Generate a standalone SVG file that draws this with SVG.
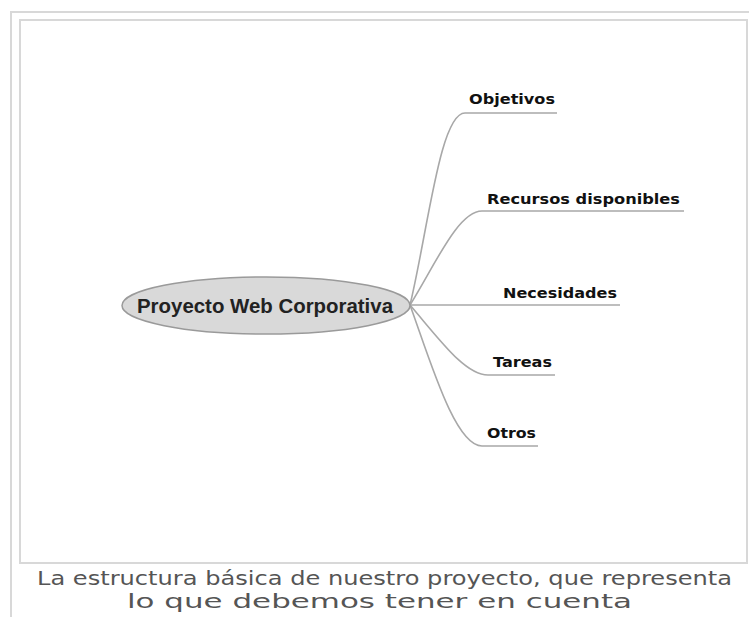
<svg xmlns="http://www.w3.org/2000/svg" width="749" height="617" viewBox="0 0 749 617">
<style>
.frame{fill:none;stroke:#d8d8d8;stroke-width:2}
.link{fill:none;stroke:#a8a8a8;stroke-width:1.6}
.lbl{font-family:"DejaVu Sans",Verdana,sans-serif;font-weight:bold;font-size:14.5px;fill:#111}
.center{font-family:"Liberation Sans",Arial,sans-serif;font-weight:bold;font-size:20px;fill:#222}
.cap{font-family:"DejaVu Sans",Verdana,sans-serif;font-size:19px;fill:#555}
</style>
<rect width="749" height="617" fill="#fff"/>
<path class="frame" d="M11,617 V12 H749" stroke-width="2.5"/>
<rect class="frame" x="20" y="20" width="727" height="543"/>
<g id="connectors">
<path class="link" d="M410,305 C428,230 440,113 465,113 H557"/>
<path class="link" d="M410,305 C435,265 458,211 482,211 H684"/>
<path class="link" d="M410,305 H620"/>
<path class="link" d="M410,305 C440,340 465,375 488,375 H555"/>
<path class="link" d="M410,305 C430,360 455,446 482,446 H538"/>
</g>
<g id="center">
<ellipse cx="266" cy="305.5" rx="144" ry="28.5" fill="#d9d9d9" stroke="#9a9a9a" stroke-width="1.5"/>
<text class="center" x="137" y="313" textLength="256" lengthAdjust="spacingAndGlyphs">Proyecto Web Corporativa</text>
</g>
<g id="objetivos"><text class="lbl" x="469" y="104" textLength="86" lengthAdjust="spacingAndGlyphs">Objetivos</text></g>
<g id="recursos"><text class="lbl" x="487" y="204" textLength="193" lengthAdjust="spacingAndGlyphs">Recursos disponibles</text></g>
<g id="necesidades"><text class="lbl" x="503" y="298" textLength="114" lengthAdjust="spacingAndGlyphs">Necesidades</text></g>
<g id="tareas"><text class="lbl" x="493" y="367" textLength="59" lengthAdjust="spacingAndGlyphs">Tareas</text></g>
<g id="otros"><text class="lbl" x="487" y="438" textLength="49" lengthAdjust="spacingAndGlyphs">Otros</text></g>
<g id="caption">
<text class="cap" x="37" y="585" textLength="695" lengthAdjust="spacingAndGlyphs">La estructura básica de nuestro proyecto, que representa</text>
<text class="cap" x="127" y="608" textLength="505" lengthAdjust="spacingAndGlyphs">lo que debemos tener en cuenta</text>
</g>
</svg>
